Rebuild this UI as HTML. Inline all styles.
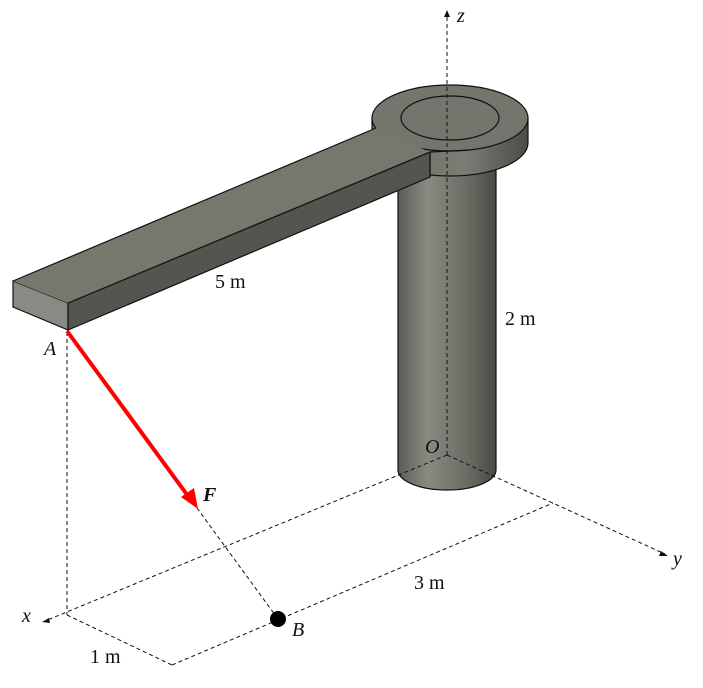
<!DOCTYPE html>
<html><head><style>body{margin:0;background:#fff}</style></head><body>
<svg width="703" height="683" viewBox="0 0 703 683" xmlns="http://www.w3.org/2000/svg" font-family="Liberation Serif, serif">
<defs>
<linearGradient id="col" x1="0" x2="1"><stop offset="0" stop-color="#5c5c56"/><stop offset="0.3" stop-color="#8a8a82"/><stop offset="0.7" stop-color="#6c6c65"/><stop offset="1" stop-color="#4a4a45"/></linearGradient>
<linearGradient id="ring" x1="0" x2="1"><stop offset="0" stop-color="#6e6e66"/><stop offset="0.6" stop-color="#7c7c74"/><stop offset="1" stop-color="#4c4c47"/></linearGradient>
</defs>
<path d="M398,170 L398,470 A49,20 0 0 0 496,470 L496,170 Z" fill="url(#col)" stroke="#111" stroke-width="1.2"/>
<path d="M372,118 L372,143 A78,33 0 0 0 528,143 L528,118 Z" fill="url(#ring)" stroke="#111" stroke-width="1.2"/>
<ellipse cx="450" cy="118" rx="78" ry="33" fill="#76756d" stroke="#111" stroke-width="1.2"/>
<ellipse cx="450" cy="118" rx="49" ry="22" fill="none" stroke="#111" stroke-width="1.2"/>
<path d="M68,303 L430,152 L430,177 L68,330 Z" fill="#55544f" stroke="#111" stroke-width="1.2"/>
<path d="M13,281 L68,303 L68,330 L13,307 Z" fill="#8a8a84" stroke="#111" stroke-width="1.2"/>
<path d="M13,281 L376,128 Q386,132 395,138 L430,152 L68,303 Z" fill="#78776e" stroke="none"/>
<path d="M13,281 L376,128 M68,303 L430,152 L470,150" fill="none" stroke="#111" stroke-width="1.2"/>
<path d="M430,152 L430,177" stroke="#111" stroke-width="1.2"/>
<g stroke="#111" stroke-width="1" stroke-dasharray="4,3" fill="none">
<line x1="447" y1="455" x2="447" y2="15"/>
<line x1="447" y1="455" x2="665" y2="554"/>
<line x1="447" y1="455" x2="45" y2="621"/>
<line x1="67" y1="332" x2="67" y2="615"/>
<line x1="67" y1="615" x2="172" y2="665"/>
<line x1="172" y1="665" x2="553" y2="503"/>
<line x1="197" y1="508" x2="278" y2="619"/>
</g>
<path d="M447,10 l-3,7 l6,0 Z M668,556 l-7,-5 l-2,5 Z M42,622 l7,-4 l1,5 Z" fill="#111"/>
<line x1="67" y1="331" x2="188" y2="496" stroke="#f00" stroke-width="4"/>
<path d="M198,509 L181,497 L194,488 Z" fill="#f00"/>
<circle cx="278" cy="619" r="8" fill="#000"/>
<g font-size="20" fill="#111">
<text x="457" y="22" font-style="italic">z</text>
<text x="673" y="565" font-style="italic">y</text>
<text x="22" y="622" font-style="italic">x</text>
<text x="44" y="355" font-style="italic">A</text>
<text x="292" y="636" font-style="italic">B</text>
<text x="425" y="453" font-style="italic">O</text>
<text x="203" y="501" font-style="italic" font-weight="bold">F</text>
<text x="215" y="288">5 m</text>
<text x="505" y="325">2 m</text>
<text x="414" y="589">3 m</text>
<text x="90" y="663">1 m</text>
</g>
</svg>
</body></html>
